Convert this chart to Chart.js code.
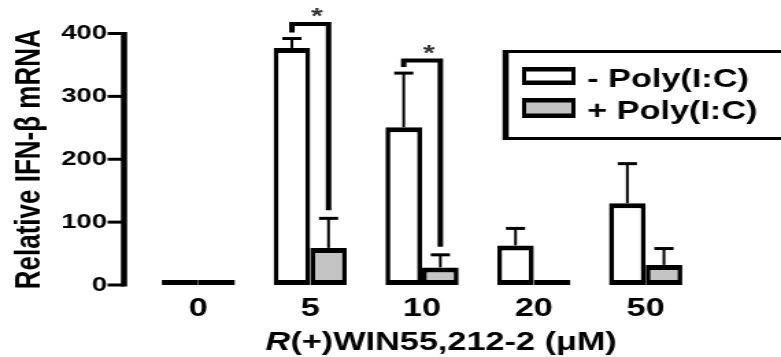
<!DOCTYPE html>
<html>
<head>
<meta charset="utf-8">
<script src="https://cdn.jsdelivr.net/npm/chart.js@4.4.1/dist/chart.umd.min.js"></script>
<style>
  html, body { margin: 0; padding: 0; background: #fff; overflow: hidden; }
  /* the source figure is stretched sideways, so draw narrow and widen it */
  #wrap { width: 570px; height: 357px; transform: scaleX(1.3702); transform-origin: 0 0; }
</style>
</head>
<body>
<div id="wrap"><canvas id="barChart" width="570" height="357"></canvas></div>
<script>
const categories = ['0', '5', '10', '20', '50'];
const minusPoly = [0, 377, 251, 63, 130];
const minusPolyErr = [0, 15, 86, 27, 63];
const plusPoly = [0, 59, 28, 1, 32];
const plusPolyErr = [0, 47, 20, 0, 26];
const yTicks = [0, 100, 200, 300, 400];
// significance brackets: which category, and bracket height in axis units
const sigCategories = [1, 2];
const sigLevels = [415, 357];

const FONT = 'Arial, "Liberation Sans", sans-serif';
const barBorder = { top: 5, bottom: 5, left: 3.6, right: 3.6 };

const extras = {
    id: 'extras',
    afterDatasetsDraw(chart) {
        const { ctx, chartArea } = chart;
        const y = chart.scales.y;
        const m0 = chart.getDatasetMeta(0);
        const m1 = chart.getDatasetMeta(1);
        ctx.save();
        ctx.strokeStyle = '#000';
        ctx.fillStyle = '#000';
        ctx.lineCap = 'butt';

        // y axis line and tick marks, set off to the left of the bars
        const axX = chartArea.left - 13.5;
        ctx.lineWidth = 4.5;
        ctx.beginPath();
        ctx.moveTo(axX, y.getPixelForValue(yTicks[yTicks.length - 1]) - 1.5);
        ctx.lineTo(axX, y.getPixelForValue(0) + 1.5);
        ctx.stroke();
        ctx.lineWidth = 3;
        yTicks.forEach(v => {
            const py = y.getPixelForValue(v);
            ctx.beginPath();
            ctx.moveTo(axX - 12, py);
            ctx.lineTo(axX, py);
            ctx.stroke();
        });

        // error bars (upper only)
        [[m0, minusPoly, minusPolyErr], [m1, plusPoly, plusPolyErr]].forEach(([meta, vals, errs]) => {
            meta.data.forEach((bar, j) => {
                if (!errs[j]) return;
                const top = y.getPixelForValue(vals[j] + errs[j]);
                ctx.lineWidth = 2;
                ctx.beginPath();
                ctx.moveTo(bar.x, bar.y);
                ctx.lineTo(bar.x, top);
                ctx.stroke();
                ctx.lineWidth = 3;
                ctx.beginPath();
                ctx.moveTo(bar.x - 7, top);
                ctx.lineTo(bar.x + 7, top);
                ctx.stroke();
            });
        });

        // significance brackets with stars
        sigCategories.forEach((c, k) => {
            const b1 = m0.data[c], b2 = m1.data[c];
            const yl = y.getPixelForValue(sigLevels[k]);
            const e1 = y.getPixelForValue(minusPoly[c] + minusPolyErr[c]) - 6;
            const e2 = y.getPixelForValue(plusPoly[c] + plusPolyErr[c]) - 8;
            ctx.lineWidth = 4;
            ctx.lineJoin = 'miter';
            ctx.beginPath();
            ctx.moveTo(b1.x, e1);
            ctx.lineTo(b1.x, yl);
            ctx.lineTo(b2.x, yl);
            ctx.lineTo(b2.x, e2);
            ctx.stroke();
            ctx.font = 'bold 22px ' + FONT;
            ctx.textAlign = 'center';
            ctx.textBaseline = 'alphabetic';
            ctx.fillStyle = '#333';
            ctx.fillText('*', (b1.x + b2.x) / 2 + 5, yl - 1);
            ctx.fillStyle = '#000';
        });

        // x axis title, with italic R
        const cx = chart.scales.x.getPixelForValue(2) + 14;
        const partA = 'R', partB = '(+)WIN55,212-2 (\u03bcM)';
        ctx.font = 'italic bold 25px ' + FONT;
        const wA = ctx.measureText(partA).width;
        ctx.font = 'bold 25px ' + FONT;
        const wB = ctx.measureText(partB).width;
        const sx = cx - (wA + wB) / 2;
        ctx.textAlign = 'left';
        ctx.textBaseline = 'alphabetic';
        ctx.font = 'italic bold 25px ' + FONT;
        ctx.fillText(partA, sx, 350);
        ctx.font = 'bold 25px ' + FONT;
        ctx.fillText(partB, sx + wA, 350);

        // legend box
        ctx.lineWidth = 3;
        ctx.strokeRect(369, 51.5, 210, 87);
        ctx.lineWidth = 4.5;
        ctx.beginPath();
        ctx.moveTo(369, 50);
        ctx.lineTo(369, 140);
        ctx.stroke();
        const rows = [67, 98];
        chart.data.datasets.forEach((ds, i) => {
            const top = rows[i];
            const h = i === 0 ? 18 : 20;
            ctx.fillStyle = '#000';
            ctx.fillRect(381, top, 39, h);
            ctx.fillStyle = ds.backgroundColor;
            ctx.fillRect(384, top + 4.5, 33, h - 9);
            ctx.fillStyle = '#000';
            ctx.font = 'bold 25px ' + FONT;
            ctx.textAlign = 'left';
            ctx.fillText(ds.label, 428.5, top + 20 + (i === 0 ? 0 : 1));
        });
        ctx.restore();
    }
};

new Chart(document.getElementById('barChart'), {
    type: 'bar',
    data: {
        labels: categories,
        datasets: [{
            label: '- Poly(I:C)',
            data: minusPoly,
            backgroundColor: '#ffffff',
            borderColor: '#000000',
            borderWidth: barBorder,
            borderSkipped: false,
            minBarLength: 5,
            barPercentage: 1,
            categoryPercentage: 0.655
        }, {
            label: '+ Poly(I:C)',
            data: plusPoly,
            backgroundColor: '#c4c4c4',
            borderColor: '#000000',
            borderWidth: barBorder,
            borderSkipped: false,
            minBarLength: 5,
            barPercentage: 1,
            categoryPercentage: 0.655
        }]
    },
    options: {
        responsive: false,
        animation: false,
        layout: { padding: { top: 33.5, right: 58, bottom: 24, left: 0 } },
        plugins: {
            legend: { display: false },
            tooltip: { enabled: false }
        },
        scales: {
            x: {
                grid: { display: false, drawTicks: false },
                border: { display: false },
                ticks: { color: '#000', padding: 9, font: { family: FONT, size: 25, weight: 'bold' } }
            },
            y: {
                min: 0,
                max: 400,
                afterBuildTicks: scale => { scale.ticks = yTicks.map(v => ({ value: v })); },
                afterFit: scale => { scale.width = 104; },
                // tick marks themselves are drawn by the plugin; tickLength only spaces the labels
                grid: { display: false, drawTicks: true, tickLength: 24 },
                border: { display: false },
                ticks: { color: '#000', padding: 2, font: { family: FONT, size: 20, weight: 'bold' } },
                title: {
                    display: true,
                    text: 'Relative IFN-\u03b2 mRNA',
                    color: '#000',
                    padding: { top: 6, bottom: 0 },
                    font: { family: FONT, size: 26, weight: 'bold' }
                }
            }
        }
    },
    plugins: [extras]
});
</script>
</body>
</html>
